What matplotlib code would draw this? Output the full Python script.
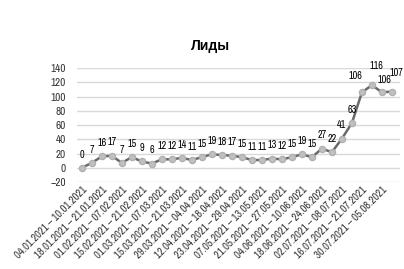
import matplotlib
matplotlib.use('Agg')
import matplotlib.pyplot as plt
from matplotlib import font_manager

# Procura uma fonte estreita instalada
nomes = sorted({f.name for f in font_manager.fontManager.ttflist})
estreitas = [n for n in nomes if 'Narrow' in n or 'Condensed' in n]
if estreitas:
    plt.rcParams['font.family'] = [estreitas[0], 'DejaVu Sans']
else:
    plt.rcParams['font.family'] = ['DejaVu Sans']
    plt.rcParams['font.stretch'] = 'condensed'

titulo = 'Лиды'
leads = [0, 7, 16, 17, 7, 15, 9, 6, 12, 12, 14, 11, 15, 19, 18, 17,
         15, 11, 11, 13, 12, 15, 19, 15, 27, 22, 41, 63, 106, 116, 106, 107]
rotulos_x = ['04.01.2021 – 10.01.2021', '18.01.2021 – 21.01.2021',
             '01.02.2021 – 07.02.2021', '15.02.2021 – 21.02.2021',
             '01.03.2021 – 07.03.2021', '15.03.2021 – 21.03.2021',
             '29.03.2021 – 04.04.2021', '12.04.2021 – 18.04.2021',
             '23.04.2021 – 29.04.2021', '07.05.2021 – 13.05.2021',
             '21.05.2021 – 27.05.2021', '04.06.2021 – 10.06.2021',
             '18.06.2021 – 24.06.2021', '02.07.2021 – 08.07.2021',
             '16.07.2021 – 21.07.2021', '30.07.2021 – 05.08.2021']
y_ticks = [-20, 0, 20, 40, 60, 80, 100, 120, 140]

fig = plt.figure(figsize=(4.04, 2.69), dpi=100)
ax = fig.add_axes([0.19, 0.323, 0.80, 0.424])

x = list(range(len(leads)))
ax.plot(x, leads, color='#6a6a6a', linewidth=1.8, marker='o', markersize=4.4,
        markerfacecolor='#c0c0c0', markeredgecolor='#b0b0b0', zorder=3)

# deslocamento dos rótulos no pico (pontos)
desloc = {28: (-5, 8), 29: (3.5, 10), 30: (1.5, 5), 31: (3, 10)}
for xi, v in zip(x, leads):
    ax.annotate(str(v), (xi, v), xytext=desloc.get(xi, (0, 6)),
                textcoords='offset points', ha='center', va='bottom',
                fontsize=7.3, fontweight='bold', color='black',
                annotation_clip=False)

ax.set_ylim(-20, 140)
ax.set_yticks(y_ticks)
ax.set_xlim(-0.5, 31.8)
ax.set_xticks(x[::2])
ax.set_xticklabels(rotulos_x, rotation=45, ha='right', rotation_mode='anchor',
                   fontsize=7.7, color='#333333')
ax.tick_params(axis='y', labelsize=8, colors='#333333', length=0, pad=8)
ax.tick_params(axis='x', length=0, pad=2)
ax.yaxis.grid(True, color='#d9d9d9', linewidth=1)
ax.set_axisbelow(True)
for s in ax.spines.values():
    s.set_visible(False)

fig.text(0.52, 0.83, titulo, ha='center', va='center', fontsize=10,
         fontweight='bold', family=['Liberation Sans', 'DejaVu Sans'])

plt.savefig('out.png', dpi=100)
